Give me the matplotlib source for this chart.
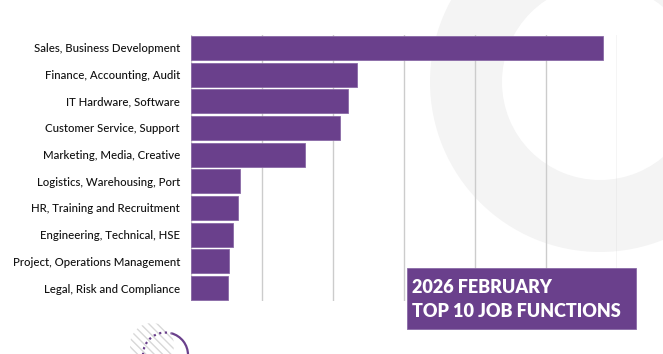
import matplotlib.pyplot as plt
from matplotlib.patches import Annulus, Circle, Rectangle, Arc

# data
functions = [
    "Sales, Business Development",
    "Finance, Accounting, Audit",
    "IT Hardware, Software",
    "Customer Service, Support",
    "Marketing, Media, Creative",
    "Logistics, Warehousing, Port",
    "HR, Training and Recruitment",
    "Engineering, Technical, HSE",
    "Project, Operations Management",
    "Legal, Risk and Compliance",
]
share = [5.80, 2.34, 2.21, 2.10, 1.60, 0.69, 0.66, 0.59, 0.54, 0.52]
grid_ticks = [0, 1, 2, 3, 4, 5, 6]
title_lines = ["2026 FEBRUARY", "TOP 10 JOB FUNCTIONS"]

PURPLE = "#6a408c"
W, H = 663, 354

plt.rcParams['font.family'] = ['Lato', 'DejaVu Sans']

fig = plt.figure(figsize=(W / 100, H / 100), dpi=100)

# background decorations in pixel coords
bg = fig.add_axes([0, 0, 1, 1], zorder=-1)
bg.set_xlim(0, W)
bg.set_ylim(H, 0)
bg.axis('off')
bg.add_patch(Annulus((600, 82), 170, 72, color='#f4f4f4', lw=0))
bg.add_patch(Circle((152, 345), 22, facecolor='none', edgecolor='#d8d8d8',
                    hatch='\\\\\\\\', lw=0))
bg.add_patch(Arc((165.5, 355), 45, 45, theta1=180, theta2=285,
                 color=PURPLE, lw=1.6, ls=(0, (1, 1.6))))
bg.add_patch(Arc((165.5, 355), 45, 45, theta1=285, theta2=360,
                 color=PURPLE, lw=1.6))

# main bar chart
ax = fig.add_axes([191 / W, 1 - 300.6 / H, 426.3 / W, (300.6 - 35.3) / H])
ax.set_facecolor('none')
y = list(range(len(functions)))
ax.barh(y, share, height=0.9, color=PURPLE, edgecolor='#8a6aa6',
        linewidth=0.6, zorder=3)
ax.set_xlim(0, 6)
ax.set_ylim(9.47, -0.47)
ax.set_xticks(grid_ticks)
ax.xaxis.grid(True, color='#cccccc', lw=1, zorder=0)
ax.set_axisbelow(True)
ax.tick_params(axis='x', length=0, labelbottom=False)
ax.tick_params(axis='y', length=0, pad=8)
ax.set_yticks(y)
ax.set_yticklabels(functions, fontsize=8.2, color='#111111',
                   fontweight='medium')
for s in ax.spines.values():
    s.set_visible(False)

# title box
fig.patches.append(Rectangle((407 / W, 1 - 329 / H), 229 / W, 61 / H,
                             transform=fig.transFigure, facecolor=PURPLE,
                             edgecolor='#8a6aa6', lw=0.6, zorder=2))
fig.text(412 / W, 1 - 293 / H, title_lines[0], color='white', fontsize=13,
         fontweight='heavy', va='baseline', zorder=4)
fig.text(412 / W, 1 - 317 / H, title_lines[1], color='white', fontsize=13,
         fontweight='heavy', va='baseline', zorder=4)

fig.savefig('out.png', dpi=100)
